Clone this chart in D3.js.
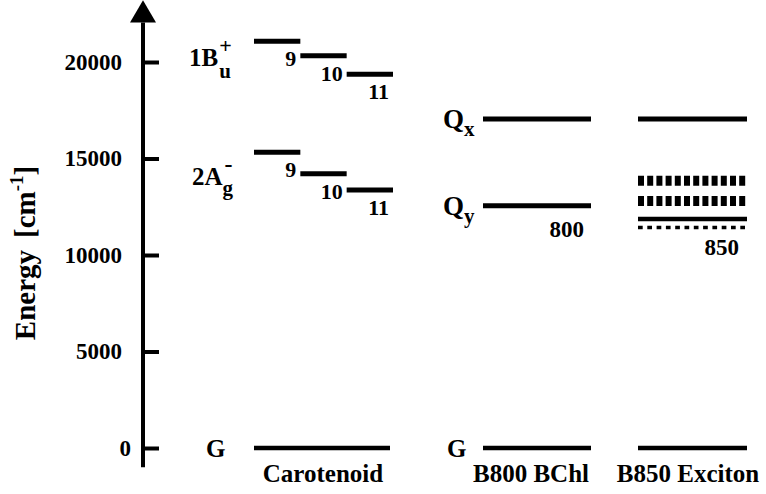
<!DOCTYPE html>
<html>
<head>
<meta charset="utf-8">
<script src="https://cdn.jsdelivr.net/npm/d3@7"></script>
</head>
<body style="margin:0; background:#fff">
<div id="chart"></div>
<script>
const WIDTH = 766;
const HEIGHT = 494;
const FONT = '"Liberation Serif"';

// data (cm-1)
const yTicks = [0, 5000, 10000, 15000, 20000];
const columns = ['Carotenoid', 'B800 BChl', 'B850 Exciton'];
const conjugation = [9, 10, 11];
const bu1Energy = [21070, 20330, 19360];
const ag2Energy = [15320, 14210, 13370];
const bchlStates = ['Qx', 'Qy'];
const b800Energy = [17050, 12550];
const b850QxEnergy = [17050];
const excitonEnergy = [13850, 12800, 11865, 11425];
const groundEnergy = [0];

const svg = d3.select('#chart')
  .append('svg')
    .attr('width', WIDTH)
    .attr('height', HEIGHT)
    .style('display', 'block');

// every text gets the serif face directly
function txt(parent) {
  return parent.append('text')
    .style('font-family', FONT)
    .attr('font-weight', 'bold')
    .attr('fill', '#000');
}

const y = d3.scaleLinear()
  .domain([0, 20000])
  .range([448, 62]);

const AXIS_X = 143;

// column extents in px
const colX = {
  'Carotenoid': [254, 390],
  'B800 BChl': [483, 591],
  'B850 Exciton': [638, 747]
};
const colLabelX = { 'Carotenoid': 323, 'B800 BChl': 531, 'B850 Exciton': 688 };

const xConj = d3.scaleBand()
  .domain(conjugation)
  .range([254, 393]);

// y axis
svg.append('g')
    .attr('transform', `translate(${AXIS_X},0)`)
    .call(d3.axisLeft(y).tickValues(yTicks).tickSize(-16).tickPadding(21).tickFormat(d3.format('d')))
    .attr('font-size', 23)
    .call(g => g.select('.domain').remove())
    .call(g => g.selectAll('.tick line').attr('stroke', '#000').attr('stroke-width', 4))
    .call(g => g.selectAll('.tick text')
      .style('font-family', FONT)
      .attr('font-weight', 'bold')
      .attr('font-size', 23)
      .attr('fill', '#000'))
    .call(g => g.selectAll('.tick').filter(d => d === 0).select('text').attr('dx', 9));

svg.append('line')
    .attr('x1', AXIS_X).attr('x2', AXIS_X)
    .attr('y1', y(-1000)).attr('y2', y(22050))
    .attr('stroke', '#000')
    .attr('stroke-width', 4);

svg.append('path')
    .attr('d', `M${AXIS_X},${y(23200)}L${AXIS_X + 13},${y(22050)}L${AXIS_X - 13},${y(22050)}Z`)
    .attr('fill', '#000');

// y title
const title = txt(svg)
    .attr('transform', 'translate(35,253) rotate(-90)')
    .attr('text-anchor', 'middle')
    .attr('font-size', 29);
title.append('tspan').text('Energy');
title.append('tspan').attr('dx', 12).text('[cm');
title.append('tspan').attr('font-size', 19).attr('dy', -12).text('-1');
title.append('tspan').attr('dy', 12).text(']');

function level(x0, x1, e, w) {
  return svg.append('line')
    .attr('x1', x0).attr('x2', x1)
    .attr('y1', y(e)).attr('y2', y(e))
    .attr('stroke', '#000')
    .attr('stroke-width', w);
}

// carotenoid levels
[bu1Energy, ag2Energy].forEach(series => {
  const data = series.map((e, i) => ({ n: conjugation[i], e }));
  svg.selectAll(null)
    .data(data)
    .enter().append('line')
      .attr('x1', d => xConj(d.n))
      .attr('x2', d => xConj(d.n) + xConj.bandwidth())
      .attr('y1', d => y(d.e))
      .attr('y2', d => y(d.e))
      .attr('stroke', '#000')
      .attr('stroke-width', 5);
  data.forEach(d => {
    txt(svg)
      .attr('x', xConj(d.n) + xConj.bandwidth() - 4)
      .attr('y', y(d.e) + 25)
      .attr('text-anchor', 'end')
      .attr('font-size', 22)
      .text(d.n);
  });
});

// ground states
columns.forEach(c => level(colX[c][0], colX[c][1], groundEnergy[0], 4.5));

// B800 BChl
b800Energy.forEach(e => level(colX['B800 BChl'][0], colX['B800 BChl'][1], e, 5));
txt(svg)
    .attr('x', colX['B800 BChl'][1] - 7)
    .attr('y', y(b800Energy[1]) + 31)
    .attr('text-anchor', 'end')
    .attr('font-size', 23)
    .text('800');

// B850 exciton
level(colX['B850 Exciton'][0], colX['B850 Exciton'][1], b850QxEnergy[0], 5);
const excitonStyle = [
  { w: 10, dash: '6,3.2' },
  { w: 10, dash: '6,3.2' },
  { w: 4.5, dash: null },
  { w: 3.5, dash: '4.7,4.6' }
];
svg.selectAll(null)
  .data(excitonEnergy)
  .enter().append('line')
    .attr('x1', colX['B850 Exciton'][0])
    .attr('x2', colX['B850 Exciton'][1])
    .attr('y1', d => y(d))
    .attr('y2', d => y(d))
    .attr('stroke', '#000')
    .attr('stroke-width', (d, i) => excitonStyle[i].w)
    .attr('stroke-dasharray', (d, i) => excitonStyle[i].dash);
txt(svg)
    .attr('x', colX['B850 Exciton'][1] - 8)
    .attr('y', y(excitonEnergy[3]) + 28)
    .attr('text-anchor', 'end')
    .attr('font-size', 23)
    .text('850');

// state labels: main text, then superscript and subscript after it
function stateLabel(x, yb, main, size, sup, sub) {
  const t = txt(svg).attr('x', x).attr('y', yb).attr('font-size', size).text(main);
  const w = t.node().getComputedTextLength();
  if (sup) txt(svg).attr('x', x + w + sup.dx).attr('y', sup.y).attr('font-size', sup.size).text(sup.t);
  if (sub) txt(svg).attr('x', x + w + sub.dx).attr('y', sub.y).attr('font-size', sub.size).text(sub.t);
}
stateLabel(189, 66, '1B', 25, { t: '+', y: 53, size: 22, dx: 1 }, { t: 'u', y: 78, size: 21, dx: 1 });
stateLabel(192, 185, '2A', 25, { t: '-', y: 172, size: 24, dx: 2 }, { t: 'g', y: 195, size: 21, dx: 0 });

bchlStates.forEach((s, i) => {
  const yb = y(b800Energy[i]);
  stateLabel(443, yb + 9.5, s[0], 27, null, { t: s[1], y: yb + 17.5, size: 21, dx: 0 });
});

[206, 447].forEach(x => {
  txt(svg).attr('x', x).attr('y', y(0) + 8.5).attr('font-size', 25).text('G');
});

// column captions
columns.forEach(c => {
  txt(svg)
    .attr('x', colLabelX[c])
    .attr('y', 482)
    .attr('text-anchor', 'middle')
    .attr('font-size', 25)
    .text(c);
});
</script>
</body>
</html>
